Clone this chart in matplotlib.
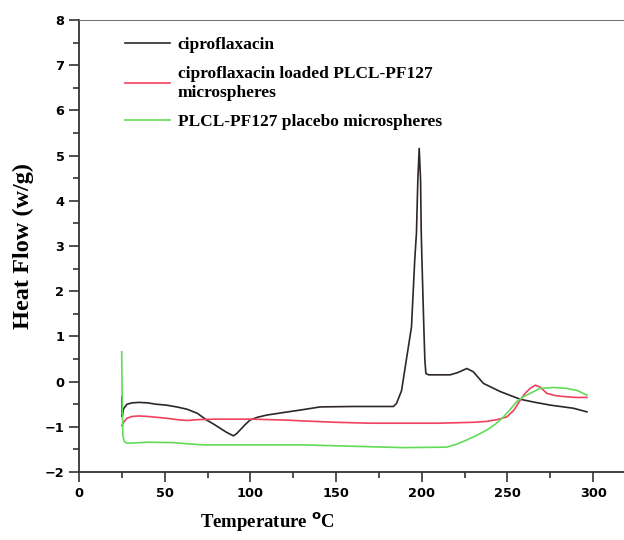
import matplotlib.pyplot as plt
from matplotlib.ticker import MultipleLocator

# DSC thermograms, values
cipro_t = [25, 25.2, 26, 28, 31, 35, 40, 45, 51, 57, 63, 69, 74.5, 79, 82.3, 86,
           90.1, 92, 94, 97, 99.8, 104, 109.6, 120, 129, 140.7, 160, 183.5,
           185.3, 188.2, 191, 194, 195.9, 196.9, 197.7, 198.5, 199.3, 199.7,
           200.1, 201.2, 201.8, 202.4, 204, 210, 216.6, 221, 226.3, 230, 236,
           245.8, 257.4, 265, 275, 288.6, 296.4]
cipro_hf = [-0.33, -0.78, -0.6, -0.5, -0.47, -0.46, -0.47, -0.5, -0.52, -0.56,
            -0.61, -0.7, -0.85, -0.95, -1.03, -1.12, -1.2, -1.15, -1.07, -0.95,
            -0.85, -0.79, -0.74, -0.68, -0.63, -0.56, -0.55, -0.55, -0.48, -0.2,
            0.48, 1.21, 2.69, 3.29, 4.46, 5.16, 4.46, 3.29, 2.69, 1.21, 0.48,
            0.18, 0.15, 0.15, 0.15, 0.2, 0.29, 0.22, -0.04, -0.22, -0.39, -0.45,
            -0.52, -0.59, -0.67]

loaded_t = [25, 26, 28, 31, 35, 40, 51, 57, 63, 70, 80, 100, 120, 131, 150, 170,
            190, 210, 230, 238, 244, 249.7, 254, 257.4, 260.5, 263.3, 266.2,
            269, 273, 278, 282.7, 290, 296.4]
loaded_hf = [-0.97, -0.9, -0.81, -0.77, -0.76, -0.77, -0.81, -0.84, -0.86,
             -0.84, -0.83, -0.83, -0.85, -0.87, -0.9, -0.92, -0.92, -0.92,
             -0.9, -0.88, -0.84, -0.78, -0.62, -0.41, -0.25, -0.15, -0.08,
             -0.12, -0.26, -0.31, -0.33, -0.35, -0.35]

placebo_t = [24.9, 25.2, 25.6, 26.5, 28, 31, 40, 55, 65, 72.6, 100, 131, 160,
             189, 214.5, 220, 226.3, 232, 238, 243, 247.7, 251.5, 255.5, 259.5,
             263.3, 269, 276.8, 284.6, 291, 296.4]
placebo_hf = [0.66, -0.4, -1.2, -1.33, -1.36, -1.36, -1.34, -1.35, -1.38, -1.4,
              -1.4, -1.4, -1.43, -1.46, -1.45, -1.39, -1.29, -1.19, -1.07,
              -0.94, -0.78, -0.62, -0.44, -0.33, -0.26, -0.15, -0.13, -0.15,
              -0.2, -0.3]

labels = ["ciproflaxacin",
          "ciproflaxacin loaded PLCL-PF127\nmicrospheres",
          "PLCL-PF127 placebo microspheres"]
colors = ["#2e2629", "#f2405c", "#62dc58"]

fig = plt.figure(figsize=(6.24, 5.40), dpi=100)
ax = fig.add_axes([0.1266, 0.1259, 0.8734, 0.837])

for t, hf, lab, c in zip([cipro_t, loaded_t, placebo_t],
                         [cipro_hf, loaded_hf, placebo_hf], labels, colors):
    ax.plot(t, hf, color=c, lw=1.2, label=lab)

ax.set_xlim(0, 318)
ax.set_ylim(-2, 8)
ax.xaxis.set_major_locator(MultipleLocator(50))
ax.xaxis.set_minor_locator(MultipleLocator(25))
ax.yaxis.set_major_locator(MultipleLocator(1))
ax.yaxis.set_minor_locator(MultipleLocator(0.5))
ax.tick_params(which="both", direction="out", color="#333333", width=1.2,
               top=False, right=False)
ax.tick_params(which="major", length=7)
ax.tick_params(which="minor", length=4)
for lbl in ax.get_xticklabels() + ax.get_yticklabels():
    lbl.set_fontweight("bold")
    lbl.set_fontsize(9.3)
    lbl.set_family("DejaVu Sans")
ax.spines["right"].set_visible(False)
ax.spines["top"].set_color("#777777")
for s in ["left", "bottom"]:
    ax.spines[s].set_color("#333333")
    ax.spines[s].set_linewidth(1.3)

serif = "Liberation Serif"
ax.set_ylabel("Heat Flow (w/g)", family=serif, fontweight="bold", fontsize=17.5,
              labelpad=8)
fig.text(0.428, 0.022, r"Temperature $^{\mathbf{o}}$C", family=serif,
         fontweight="bold", fontsize=13.5, ha="center")

ax.legend(loc="upper left", bbox_to_anchor=(0.055, 0.997), frameon=False,
          prop={"family": serif, "weight": "bold", "size": 12.5},
          handlelength=2.6, handletextpad=0.45, labelspacing=0.75)

fig.savefig("out.png", dpi=100)
